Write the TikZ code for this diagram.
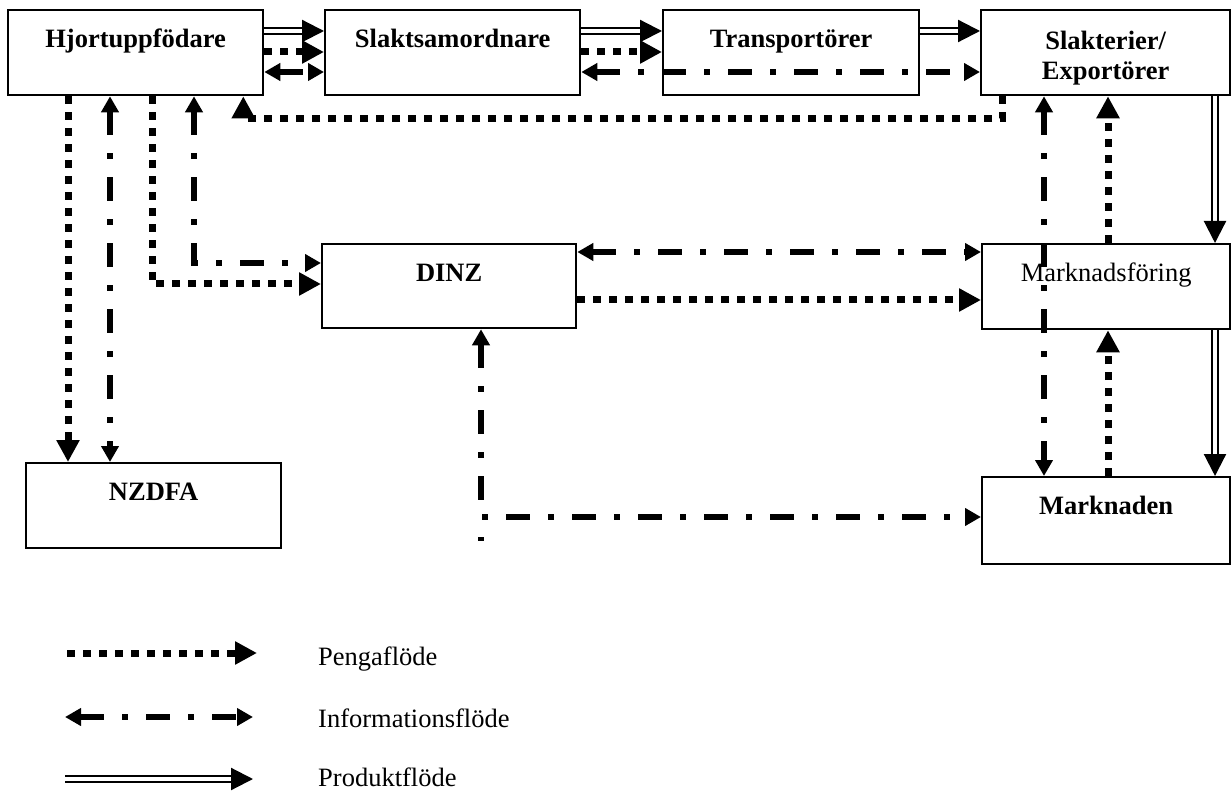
\documentclass[tikz,border=0pt]{standalone}
\usepackage{fontspec}
\setmainfont{Liberation Serif}
\usetikzlibrary{arrows.meta}

\begin{document}
\begin{tikzpicture}[x=1pt, y=-1pt,
	box/.style={draw, line width=2.3pt, fill=white, inner sep=0pt, anchor=north west, align=center,
		text height=37pt, text depth=48pt, font=\fontsize{26.5}{30}\selectfont\bfseries},
	money/.style={line width=7pt, dash pattern=on 8pt off 8pt, -{Triangle[length=22pt, width=22pt]}},
	info/.style={line width=6pt, dash pattern=on 24pt off 18pt on 6pt off 18pt,
		{Triangle[length=16pt, width=17pt]}-{Triangle[length=16pt, width=17pt]}},
	prod/.style={double, line width=2.2pt, double distance=3.5pt, -{Triangle[length=22pt, width=22pt]}},
	legendtext/.style={anchor=base west, inner sep=0pt, font=\fontsize{26.5}{30}\selectfont}]
		\useasboundingbox (0,0) rectangle (1231,791);
		
		\draw (7,9) node[box, text width=255pt] (hjort) {Hjortuppfödare}
		(324,9) node[box, text width=255pt] (slakt) {Slaktsamordnare}
		(662,9) node[box, text width=256pt] (transp) {Transportörer}
		(980,9) node[box, text width=249pt, text height=39pt, text depth=46pt] (slakteri) {Slakterier/\\Exportörer}
		(321,243) node[box, text width=254pt, text depth=47pt] (dinz) {DINZ}
		(981,243) node[box, text width=248pt, font=\fontsize{26.5}{30}\selectfont] (mfor) {Marknadsföring}
		(981,476) node[box, text width=248pt, text depth=50pt] (marknaden) {Marknaden}
		(25,462) node[box, text width=255pt] (nzdfa) {NZDFA};
		
		% top row
		\draw[prod] ([yshift=-22pt]hjort.north east) -- ([yshift=-22pt]slakt.north west);
		\draw[money] ([yshift=-43pt]hjort.north east) -- ([yshift=-43pt]slakt.north west);
		\draw[info] ([yshift=-63pt]hjort.north east) -- ([yshift=-63pt]slakt.north west);
		\draw[prod] ([yshift=-22pt]slakt.north east) -- ([yshift=-22pt]transp.north west);
		\draw[money] ([yshift=-43pt]slakt.north east) -- ([yshift=-43pt]transp.north west);
		\draw[info] ([yshift=-63pt]slakt.north east) -- ([yshift=-63pt]slakteri.north west);
		\draw[prod] ([yshift=-22pt]transp.north east) -- ([yshift=-22pt]slakteri.north west);
		\draw[money] ([xshift=22pt]slakteri.south west) -- ++(0,22) -| ([xshift=-21pt]hjort.south east);
		
		% left side
		\draw[money] ([xshift=61pt]hjort.south west) -- ([xshift=43pt]nzdfa.north west);
		\draw[info] ([xshift=103pt]hjort.south west) -- ([xshift=85pt]nzdfa.north west);
		\draw[money] ([xshift=145pt]hjort.south west) |- ([yshift=-41pt]dinz.north west);
		\draw[info] ([xshift=187pt]hjort.south west) |- ([yshift=-20pt]dinz.north west);
		
		% DINZ
		\draw[info] ([yshift=-9pt]dinz.north east) -- ([yshift=-9pt]mfor.north west);
		\draw[money] ([yshift=-57pt]dinz.north east) -- ([yshift=-57pt]mfor.north west);
		\draw[info] ([xshift=160pt]dinz.south west) |- ([yshift=-41pt]marknaden.north west);
		\draw[line width=6pt] (481,537) -- (481,541);
		
		% right side
		\draw[info] ([xshift=64pt]slakteri.south west) -- ([xshift=63pt]marknaden.north west);
		\draw[money] ([xshift=127pt]mfor.north west) -- ([xshift=128pt]slakteri.south west);
		\draw[prod] ([xshift=235pt]slakteri.south west) -- ([xshift=234pt]mfor.north west);
		\draw[money] ([xshift=127pt]marknaden.north west) -- ([xshift=127pt]mfor.south west);
		\draw[prod] ([xshift=234pt]mfor.south west) -- ([xshift=234pt]marknaden.north west);
		
		% legend
		\coordinate (pengaS) at (67,653);
		\coordinate (pengaE) at (257,653);
		\coordinate (infoS) at (65,717);
		\coordinate (infoE) at (253,717);
		\coordinate (prodS) at (65,779);
		\coordinate (prodE) at (253,779);
		\draw[money] (pengaS) -- (pengaE);
		\draw[info] (infoS) -- (infoE);
		\draw[prod] (prodS) -- (prodE);
		\node[legendtext] (penga) at (318,665) {Pengaflöde};
		\node[legendtext] (infotext) at (318,727) {Informationsflöde};
		\node[legendtext] (prodtext) at (318,786) {Produktflöde};
	\end{tikzpicture}
\end{document}
